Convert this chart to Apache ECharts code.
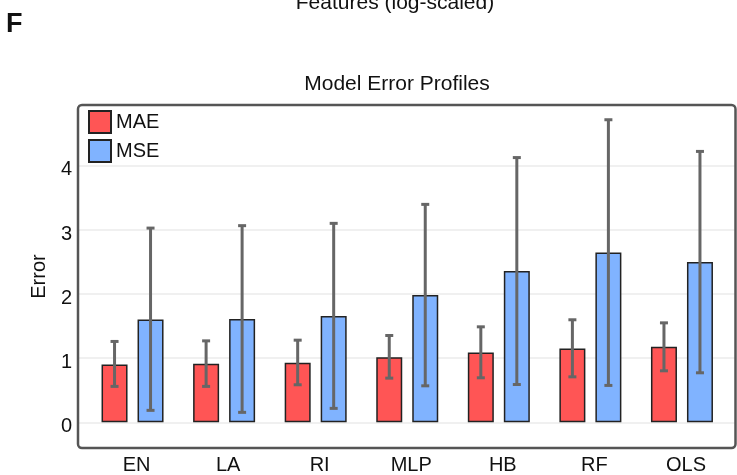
<!DOCTYPE html>
<html>
<head>
<meta charset="utf-8">
<script src="https://cdn.jsdelivr.net/npm/echarts@6/dist/echarts.min.js"></script>
<style>html,body{margin:0;padding:0;background:#fff;}#c{width:737px;height:475px;}</style>
</head>
<body>
<div id="c"></div>
<script>
const categories = ['EN', 'LA', 'RI', 'MLP', 'HB', 'RF', 'OLS'];
const maeValues = [0.903, 0.913, 0.928, 1.017, 1.09, 1.152, 1.178];
const maeLow    = [0.561, 0.561, 0.586, 0.69, 0.695, 0.71, 0.804];
const maeHigh   = [1.262, 1.271, 1.282, 1.355, 1.49, 1.60, 1.552];
const mseValues = [1.604, 1.614, 1.66, 1.988, 2.36, 2.648, 2.50];
const mseLow    = [0.187, 0.156, 0.218, 0.57, 0.59, 0.576, 0.773];
const mseHigh   = [3.03, 3.068, 3.104, 3.40, 4.13, 4.72, 4.226];
const seriesNames = ['MAE', 'MSE'];

const FONT = 'Liberation Sans, Arial, sans-serif';
const BAR_W = 26, BAR_GAP = 10;
const Y_MIN = -0.4, Y_MAX = 4.95;

function errData(lo, hi) { return categories.map((c, i) => [i, lo[i], hi[i]]); }
function errSeries(name, lo, hi, offset) {
  return {
    name: name, type: 'custom', xAxisIndex: 1, yAxisIndex: 1, z: 5,
    encode: { x: 0, y: [1, 2] },
    data: errData(lo, hi),
    renderItem: function (params, api) {
      const i = api.value(0);
      const top = api.coord([i, api.value(2)]);
      const bot = api.coord([i, api.value(1)]);
      const x = top[0] + offset;
      const st = { stroke: '#666', lineWidth: 3 };
      const cap = 4;
      return { type: 'group', children: [
        { type: 'line', shape: { x1: x, y1: top[1], x2: x, y2: bot[1] }, style: st },
        { type: 'line', shape: { x1: x - cap, y1: top[1], x2: x + cap, y2: top[1] }, style: st },
        { type: 'line', shape: { x1: x - cap, y1: bot[1], x2: x + cap, y2: bot[1] }, style: st }
      ]};
    }
  };
}

const chart = echarts.init(document.getElementById('c'), null, { renderer: 'canvas' });
chart.setOption({
  animation: false,
  backgroundColor: '#fff',
  textStyle: { fontFamily: FONT },
  title: [
    { text: 'Model Error Profiles', left: 392, top: 69, textAlign: 'center',
      textStyle: { fontSize: 21, fontWeight: 'normal', color: '#111', fontFamily: FONT } },
    { text: 'Features (log-scaled)', left: 390, top: -12, textAlign: 'center',
      textStyle: { fontSize: 21, fontWeight: 'normal', color: '#111', fontFamily: FONT } },
    { text: 'F', left: 1, top: 6,
      textStyle: { fontSize: 27, fontWeight: 'bold', color: '#111', fontFamily: FONT } }
  ],
  legend: {
    data: seriesNames, orient: 'vertical', left: 83, top: 105,
    itemWidth: 22, itemHeight: 22, itemGap: 5, icon: 'rect',
    textStyle: { fontSize: 20, color: '#111', fontFamily: FONT },
    selectedMode: false
  },
  grid: [
    { left: 78, right: 1.5, top: 105, bottom: 27, containLabel: false },
    { left: 86.75, right: 9.25, top: 105, bottom: 27, containLabel: false }
  ],
  xAxis: [
    { type: 'value', gridIndex: 0, show: false, min: 0, max: 1 },
    { type: 'category', gridIndex: 1, data: categories,
      axisLine: { show: false }, axisTick: { show: false }, splitLine: { show: false },
      axisLabel: { fontSize: 20, color: '#111', margin: 7, padding: [0, 0, 0, 8], fontFamily: FONT } }
  ],
  yAxis: [
    { type: 'value', gridIndex: 0, min: Y_MIN, max: Y_MAX, splitNumber: 5,
      name: 'Error', nameLocation: 'middle', nameGap: 26, nameRotate: 90,
      nameTextStyle: { fontSize: 20, color: '#111', fontFamily: FONT },
      axisLine: { show: false }, axisTick: { show: false },
      axisLabel: { color: '#111', margin: 6,
        showMinLabel: false, showMaxLabel: false,
        formatter: v => (Math.abs(v - Math.round(v)) < 1e-9 ? '{t|' + Math.round(v) + '}' : ''),
        rich: { t: { fontSize: 20, color: '#111', fontFamily: FONT, padding: [8, 0, 0, 0] } } },
      splitLine: { show: true, lineStyle: { color: '#ebebeb', width: 1.5 } } },
    { type: 'value', gridIndex: 1, min: Y_MIN, max: Y_MAX, show: false, splitLine: { show: false } }
  ],
  graphic: [
    { type: 'rect', z: 100, silent: true,
      shape: { x: 78, y: 105, width: 657.5, height: 343, r: 4 },
      style: { fill: 'none', stroke: '#555', lineWidth: 2.5 } }
  ],
  series: [
    { name: 'MAE', type: 'bar', xAxisIndex: 1, yAxisIndex: 1, data: maeValues,
      barWidth: BAR_W, barGap: (BAR_GAP / BAR_W * 100) + '%',
      itemStyle: { color: '#ff5555', borderColor: '#222', borderWidth: 1.5 } },
    { name: 'MSE', type: 'bar', xAxisIndex: 1, yAxisIndex: 1, data: mseValues,
      barWidth: BAR_W, barGap: (BAR_GAP / BAR_W * 100) + '%',
      itemStyle: { color: '#80b3ff', borderColor: '#222', borderWidth: 1.5 } },
    errSeries('MAE err', maeLow, maeHigh, -(BAR_W + BAR_GAP) / 2),
    errSeries('MSE err', mseLow, mseHigh, (BAR_W + BAR_GAP) / 2)
  ]
});
</script>
</body>
</html>
